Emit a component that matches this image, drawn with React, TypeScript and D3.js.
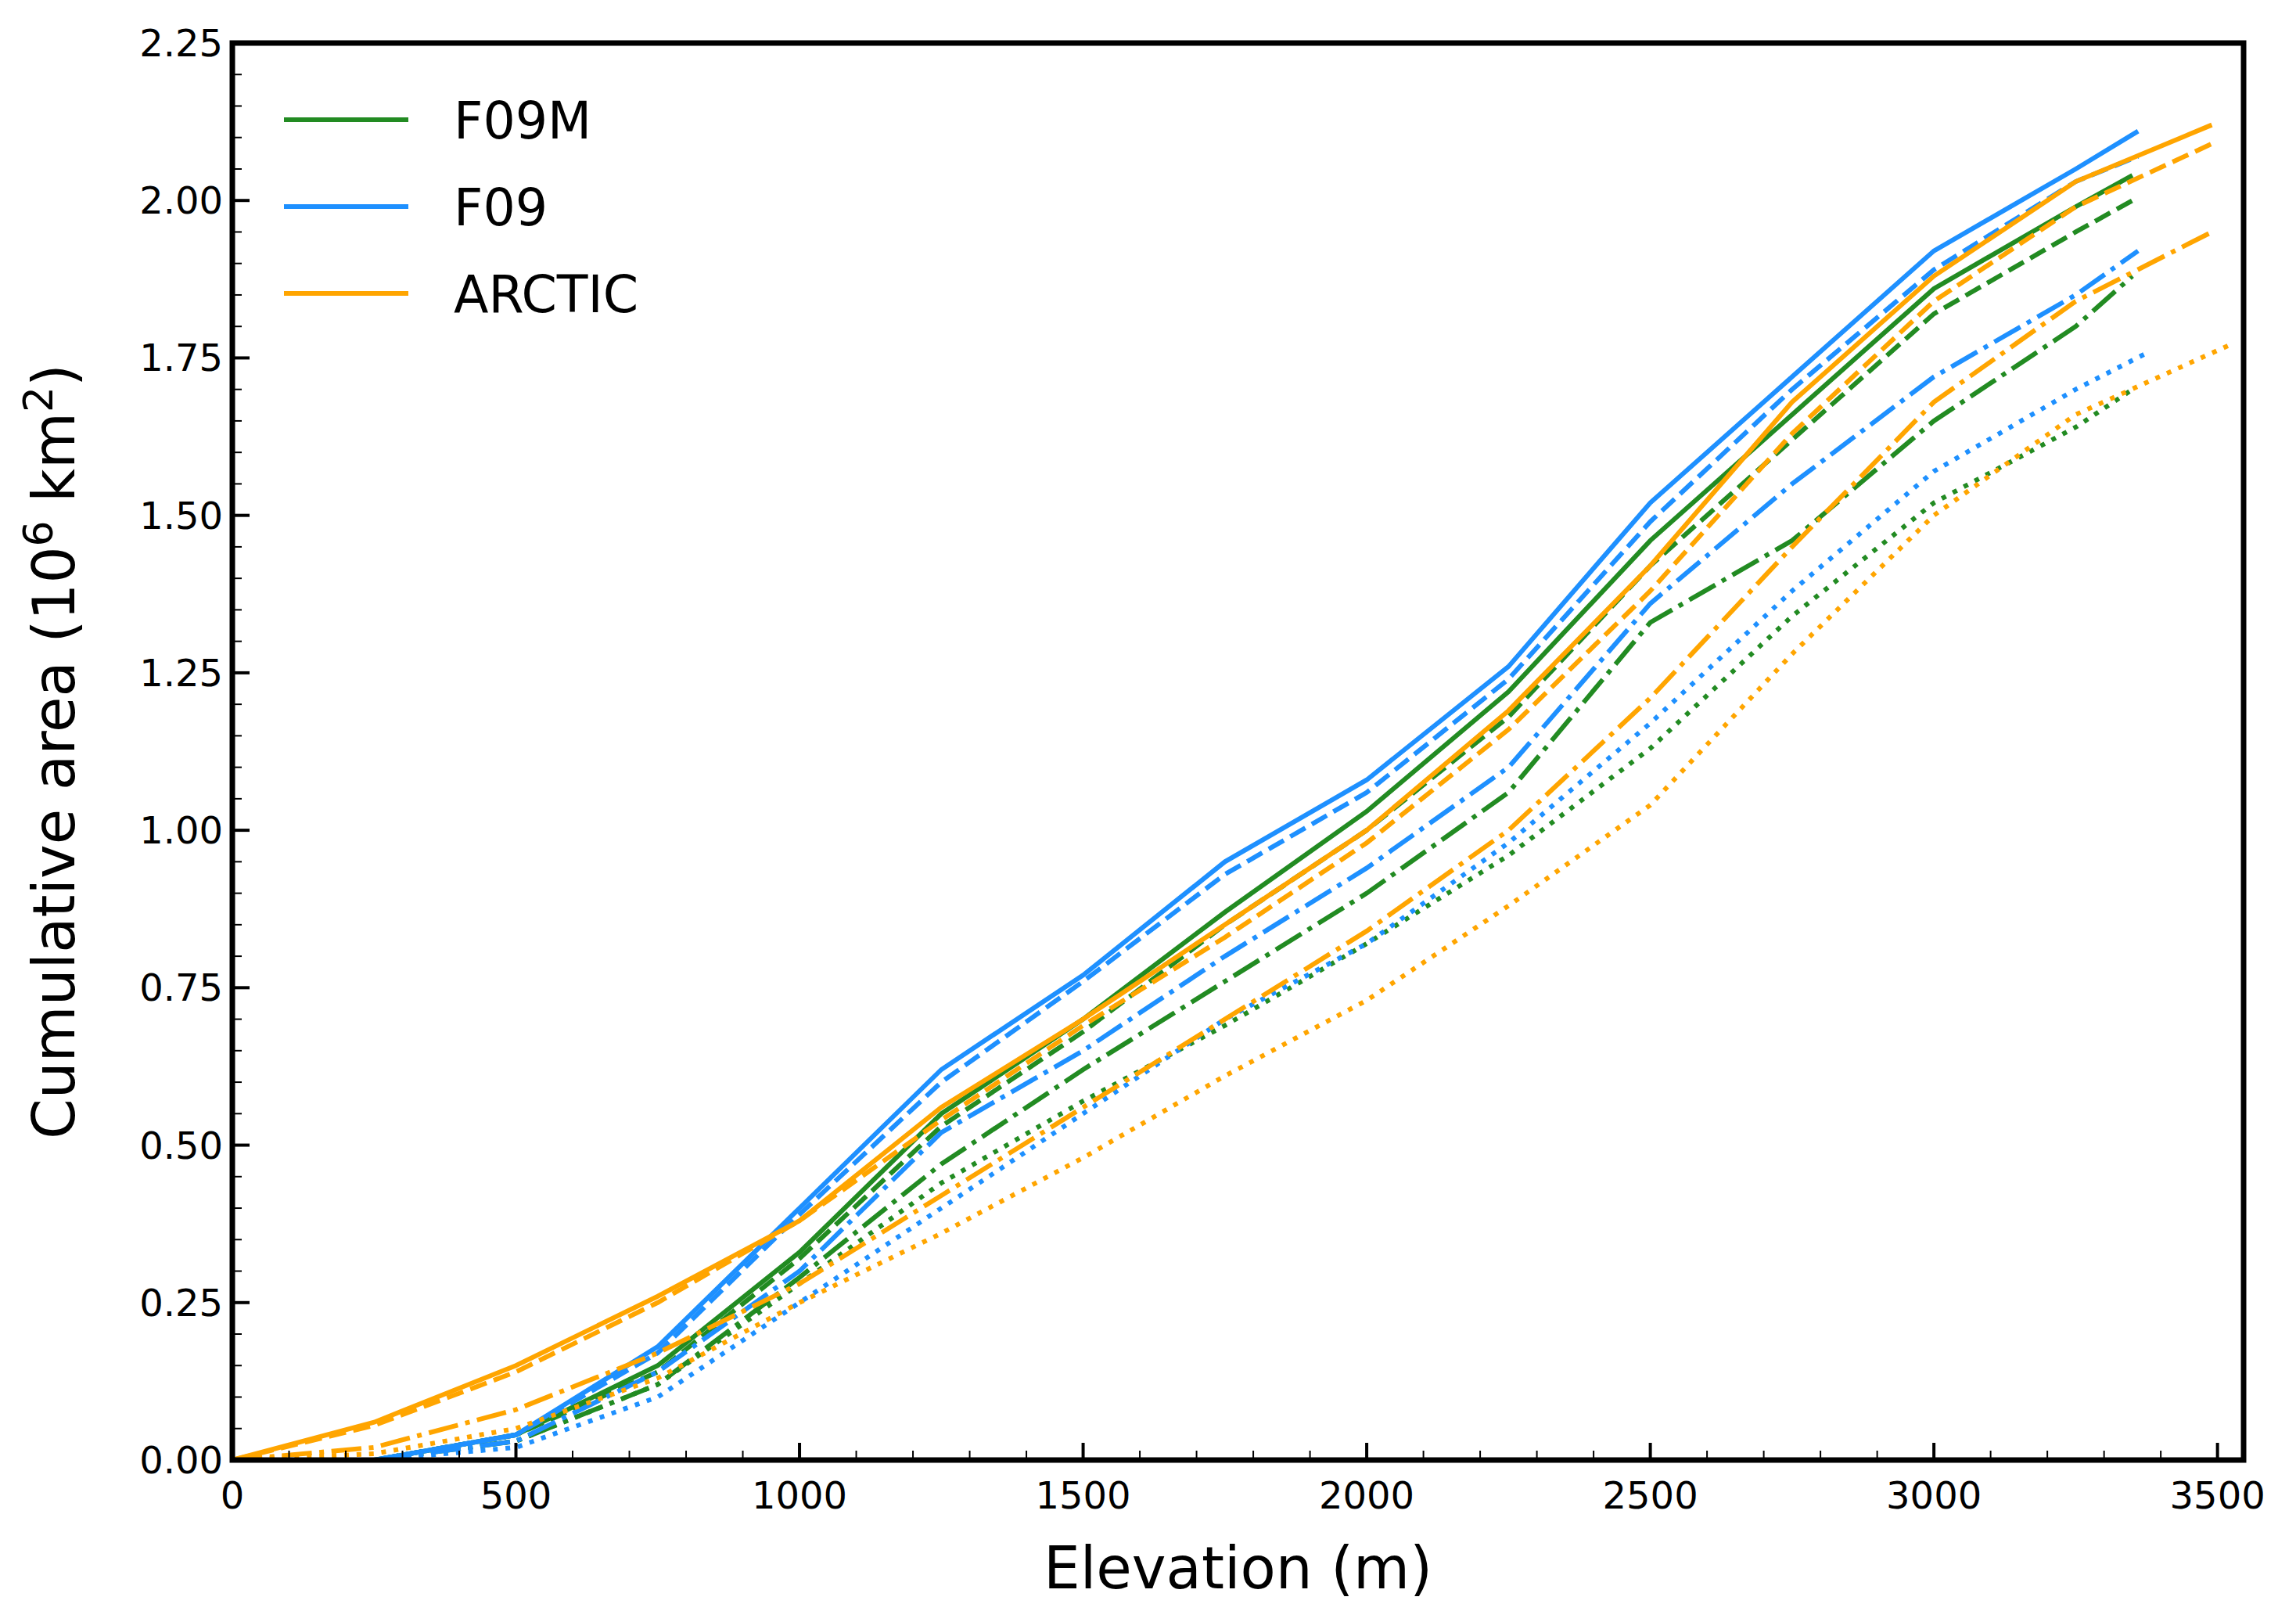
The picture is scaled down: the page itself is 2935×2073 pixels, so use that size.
import * as d3 from "d3";

const elev = [0, 250, 500, 750, 1000, 1250, 1500, 1750, 2000, 2250, 2500, 2750, 3000, 3250];
const models = ["F09M", "F09", "ARCTIC"];
const colors = ["#228b22", "#1e90ff", "#ffa500"];
const styles = ["solid", "dashed", "dashdot", "dotted"];
const endX = [3350, 3360, 3490];
const endXDotted = [3350, 3380, 3520];

// values per model, per style (last value at end elevation)
const f09m = [
  [0, 0, 0.04, 0.15, 0.33, 0.55, 0.7, 0.87, 1.03, 1.22, 1.46, 1.66, 1.86, 1.99, 2.04],
  [0, 0, 0.04, 0.14, 0.32, 0.53, 0.68, 0.85, 1.0, 1.18, 1.42, 1.62, 1.82, 1.95, 2.0],
  [0, 0, 0.03, 0.12, 0.29, 0.47, 0.62, 0.76, 0.9, 1.06, 1.33, 1.46, 1.65, 1.8, 1.88],
  [0, 0, 0.03, 0.12, 0.28, 0.44, 0.57, 0.69, 0.82, 0.96, 1.13, 1.34, 1.52, 1.64, 1.7],
];
const f09 = [
  [0, 0, 0.04, 0.18, 0.4, 0.62, 0.77, 0.95, 1.08, 1.26, 1.52, 1.72, 1.92, 2.05, 2.11],
  [0, 0, 0.04, 0.17, 0.39, 0.6, 0.76, 0.93, 1.06, 1.24, 1.49, 1.7, 1.89, 2.03, 2.07],
  [0, 0, 0.03, 0.14, 0.3, 0.52, 0.65, 0.8, 0.94, 1.1, 1.36, 1.55, 1.72, 1.85, 1.92],
  [0, 0, 0.02, 0.1, 0.25, 0.4, 0.55, 0.7, 0.82, 0.98, 1.17, 1.38, 1.57, 1.7, 1.76],
];
const arctic = [
  [0, 0.06, 0.15, 0.26, 0.38, 0.56, 0.7, 0.85, 1.0, 1.19, 1.42, 1.68, 1.88, 2.03, 2.12],
  [0, 0.055, 0.14, 0.25, 0.38, 0.54, 0.69, 0.83, 0.98, 1.16, 1.38, 1.63, 1.84, 1.99, 2.09],
  [0, 0.02, 0.08, 0.17, 0.28, 0.42, 0.56, 0.7, 0.84, 1.0, 1.21, 1.45, 1.68, 1.84, 1.95],
  [0, 0.01, 0.05, 0.13, 0.25, 0.36, 0.48, 0.61, 0.73, 0.88, 1.04, 1.28, 1.5, 1.66, 1.77],
];
const seriesValues = [f09m, f09, arctic];

const xTicks = [0, 500, 1000, 1500, 2000, 2500, 3000, 3500];
const yTicks = [0, 0.25, 0.5, 0.75, 1.0, 1.25, 1.5, 1.75, 2.0, 2.25];

const W = 2935, H = 2073;
const m = { left: 297, right: 2868, top: 55, bottom: 1866 };
const LW = 6;
const dashes: Record<string, string | undefined> = {
  solid: undefined,
  dashed: `${LW * 3.7},${LW * 1.6}`,
  dashdot: `${LW * 6.4},${LW * 1.6},${LW * 1},${LW * 1.6}`,
  dotted: `${LW * 1},${LW * 1.65}`,
};

export default function App() {
  const x = d3.scaleLinear().domain([0, 3546]).range([m.left, m.right]);
  const y = d3.scaleLinear().domain([0, 2.25]).range([m.bottom, m.top]);
  const line = d3.line<[number, number]>().x((d) => x(d[0])).y((d) => y(d[1]));
  const font = "DejaVu Sans, sans-serif";
  const xMinor = d3.range(0, 3501, 100).filter((v) => v % 500 !== 0);
  const yMinor = d3.range(0, 2.2501, 0.05).filter((v) => Math.abs((v / 0.25) - Math.round(v / 0.25)) > 0.01);

  return (
    <svg width={W} height={H} style={{ position: "absolute", left: 0, top: 0, background: "white" }} fontFamily={font}>
      <rect x={0} y={0} width={W} height={H} fill="white" />
      {seriesValues.map((model, mi) =>
        model.map((vals, si) => {
          const xs = [...elev, si === 3 ? endXDotted[mi] : endX[mi]];
          const pts = vals.map((v, i) => [xs[i], v] as [number, number]);
          return (
            <path key={`${mi}-${si}`} d={line(pts) ?? ""} fill="none" stroke={colors[mi]}
              strokeWidth={LW} strokeDasharray={dashes[styles[si]]} />
          );
        })
      )}
      {/* ticks */}
      {xTicks.map((t) => (
        <g key={`xt${t}`}>
          <line x1={x(t)} x2={x(t)} y1={m.bottom} y2={m.bottom - 22} stroke="black" strokeWidth={4} />
          <text x={x(t)} y={m.bottom + 62} fontSize={48} textAnchor="middle">{t}</text>
        </g>
      ))}
      {xMinor.map((t) => (
        <line key={`xm${t}`} x1={x(t)} x2={x(t)} y1={m.bottom} y2={m.bottom - 12} stroke="black" strokeWidth={2} />
      ))}
      {yTicks.map((t) => (
        <g key={`yt${t}`}>
          <line x1={m.left} x2={m.left + 22} y1={y(t)} y2={y(t)} stroke="black" strokeWidth={4} />
          <text x={m.left - 12} y={y(t) + 17} fontSize={48} textAnchor="end">{t.toFixed(2)}</text>
        </g>
      ))}
      {yMinor.map((t) => (
        <line key={`ym${t}`} x1={m.left} x2={m.left + 12} y1={y(t)} y2={y(t)} stroke="black" strokeWidth={2} />
      ))}
      <rect x={m.left} y={m.top} width={m.right - m.left} height={m.bottom - m.top} fill="none" stroke="black" strokeWidth={7} />
      <text x={(m.left + m.right) / 2} y={2030} fontSize={74} textAnchor="middle">Elevation (m)</text>
      <text transform={`translate(${95},${(m.top + m.bottom) / 2}) rotate(-90)`} fontSize={74} textAnchor="middle">
        Cumulative area (10<tspan dy={-28} fontSize={52}>6</tspan><tspan dy={28}> km</tspan><tspan dy={-28} fontSize={52}>2</tspan><tspan dy={28}>)</tspan>
      </text>
      {models.map((name, i) => (
        <g key={name}>
          <line x1={363} x2={522} y1={153 + i * 111} y2={153 + i * 111} stroke={colors[i]} strokeWidth={LW} />
          <text x={580} y={153 + i * 111 + 24} fontSize={65}>{name}</text>
        </g>
      ))}
    </svg>
  );
}
